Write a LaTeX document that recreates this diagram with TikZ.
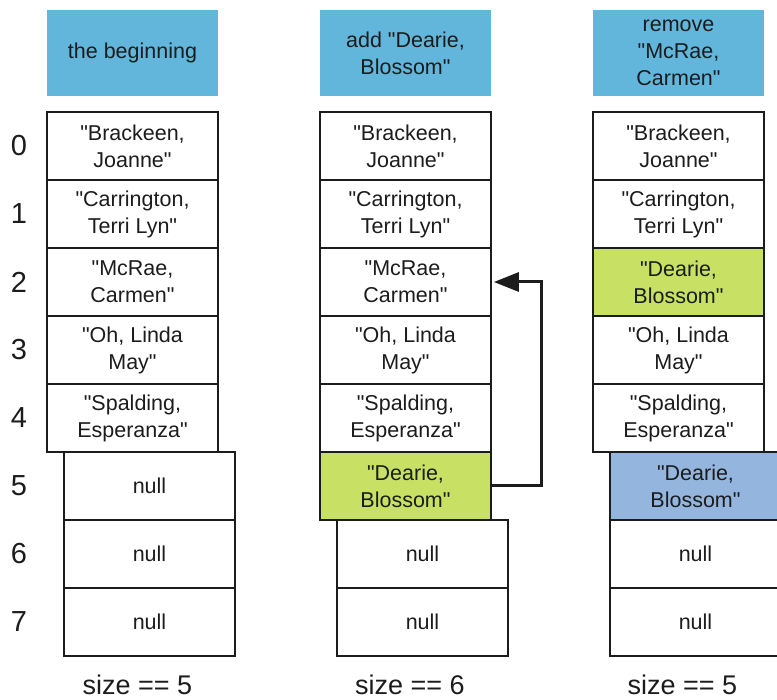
\documentclass[tikz,border=0pt]{standalone}
\usepackage{fontspec}
\setmainfont{Liberation Sans}[Ligatures=TeXOff]
\usetikzlibrary{arrows.meta}

\definecolor{headblue}{RGB}{98,182,220}
\definecolor{newgreen}{RGB}{200,225,100}
\definecolor{oldblue}{RGB}{148,182,222}
\definecolor{ink}{RGB}{28,28,28}

\begin{document}
\begin{tikzpicture}[%
            x=1pt,
            y=-1pt,
            >=Triangle,
            font=\fontsize{21.5}{27}\selectfont,
            text=ink,
            ]
    \tikzset{cell/.style = {draw=ink, line width=1.8pt, minimum width=171pt, minimum height=68pt, inner sep=0pt, align=center}}
    \tikzset{head/.style = {fill=headblue, minimum width=171pt, minimum height=86pt, inner sep=0pt, align=center}}
    \tikzset{idx/.style = {font=\fontsize{29}{29}\selectfont}}
    \tikzset{sizelbl/.style = {anchor=base, font=\fontsize{27}{27}\selectfont}}
    \tikzset{move/.style = {draw=ink, line width=3pt, ->, >={Triangle[length=25pt, width=19pt]}, shorten >=2pt}}

    \useasboundingbox (0,0) rectangle (777,700);
    \clip (0,0) rectangle (777,700);

    % Headers
    \node[head] (h1) at (132.5,53) {the beginning};
    \node[head] (h2) at (405.5,53) {add "Dearie,\\ Blossom"};
    \node[head] (h3) at (678.5,53) {remove\\ "McRae,\\ Carmen"};

    % Index column
    \foreach \i in {0,...,7}
        \node[idx] (i\i) at (19,146+68*\i) {\i};

    % The beginning
    \foreach \i/\txt in {0/{"Brackeen,\\ Joanne"}, 1/{"Carrington,\\ Terri Lyn"}, 2/{"McRae,\\ Carmen"}, 3/{"Oh, Linda\\ May"}, 4/{"Spalding,\\ Esperanza"}}
        \node[cell] (a\i) at (132.5,146+68*\i) {\txt};
    \foreach \i in {5,6,7}
        \node[cell] (a\i) at (149.5,146+68*\i) {null};

    % After add
    \foreach \i/\txt in {0/{"Brackeen,\\ Joanne"}, 1/{"Carrington,\\ Terri Lyn"}, 2/{"McRae,\\ Carmen"}, 3/{"Oh, Linda\\ May"}, 4/{"Spalding,\\ Esperanza"}}
        \node[cell] (b\i) at (405.5,146+68*\i) {\txt};
    \node[cell, fill=newgreen] (b5) at (405.5,486) {"Dearie,\\ Blossom"};
    \foreach \i in {6,7}
        \node[cell] (b\i) at (422.5,146+68*\i) {null};

    % After remove
    \foreach \i/\txt in {0/{"Brackeen,\\ Joanne"}, 1/{"Carrington,\\ Terri Lyn"}, 3/{"Oh, Linda\\ May"}, 4/{"Spalding,\\ Esperanza"}}
        \node[cell] (c\i) at (678.5,146+68*\i) {\txt};
    \node[cell, fill=newgreen] (c2) at (678.5,282) {"Dearie,\\ Blossom"};
    \node[cell, fill=oldblue] (c5) at (695.5,486) {"Dearie,\\ Blossom"};
    \foreach \i in {6,7}
        \node[cell] (c\i) at (695.5,146+68*\i) {null};

    % Move of the last entry
    \draw[move] (b5.east) -- ++(50,0) |- (b2.east);

    % Sizes
    \node[sizelbl] (s1) at (137.5,694) {size == 5};
    \node[sizelbl] (s2) at (410,694) {size == 6};
    \node[sizelbl] (s3) at (682.5,694) {size == 5};

\end{tikzpicture}
\end{document}
